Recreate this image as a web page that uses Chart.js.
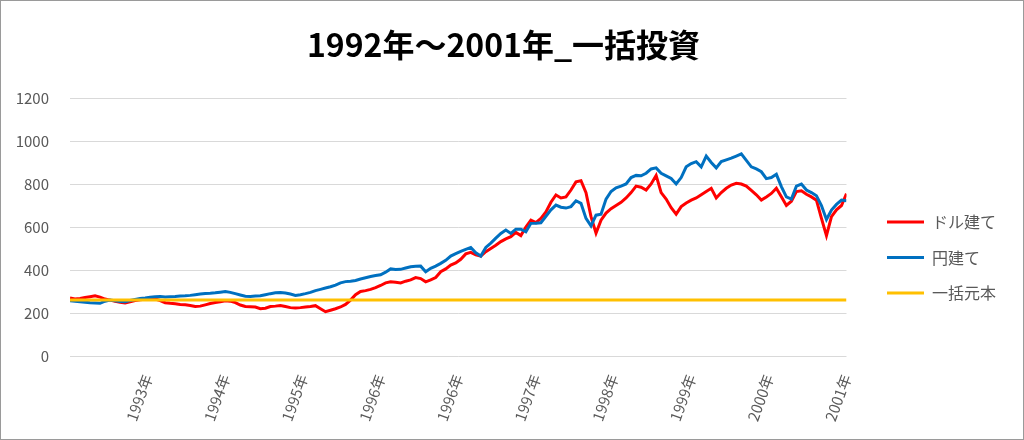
<!DOCTYPE html>
<html lang="ja">
<head>
<meta charset="utf-8">
<title>1992年～2001年_一括投資</title>
<script src="https://cdn.jsdelivr.net/npm/chart.js@4.4.1/dist/chart.umd.min.js"></script>
<style>
  html, body { margin: 0; padding: 0; background: #fff; }
  #wrap {
    width: 1024px;
    height: 440px;
    box-sizing: border-box;
    border: 1px solid #9a9a9a;
  }
  canvas { display: block; }
</style>
</head>
<body>
<div id="wrap"><canvas id="lumpChart" width="1022" height="438"></canvas></div>
<script>
// 系列ラベル
const seriesNames = ["ドル建て", "円建て", "一括元本"];

// 軸ラベル（10年間を等間隔）
const tickLabels = ["1993年", "1994年", "1995年", "1996年", "1996年",
  "1997年", "1998年", "1999年", "2000年", "2001年"];
const SPAN_YEARS = 10;

// ドル建て評価額
const dollarValues = [
  270, 265, 268, 272, 276, 280, 274, 265, 260, 255,
  250, 247, 252, 258, 262, 264, 266, 265, 258, 248,
  245, 243, 240, 238, 235, 230, 232, 238, 244, 249,
  252, 257, 255, 248, 237, 230, 229, 228, 220, 222,
  230, 232, 235, 230, 225, 223, 225, 228, 230, 234,
  220, 206, 213, 220, 228, 240, 260, 285, 300, 304,
  310, 318, 328, 340, 345, 343, 340, 348, 354, 365,
  360, 345, 354, 365, 392, 405, 423, 433, 450, 475,
  482, 470, 465, 485, 500, 515, 532, 545, 555, 575,
  560, 600, 632, 620, 640, 670, 715, 749, 735, 740,
  772, 810, 815, 760, 648, 571, 632, 665, 685, 700,
  715, 735, 760, 790, 785, 772, 800, 840, 760, 730,
  690, 660, 695, 712, 725, 735, 750, 765, 780, 735,
  760, 780, 795, 803, 800, 790, 770, 750, 725, 740,
  756, 780, 741, 700, 720, 765, 768, 752, 740, 725,
  640, 560, 648, 680, 700, 755
];

// 円建て評価額
const yenValues = [
  257, 255, 252, 250, 248, 247, 245, 255, 260, 257,
  254, 252, 258, 263, 268, 270, 273, 276, 277, 275,
  276, 277, 279, 280, 282, 285, 288, 291, 292, 294,
  297, 300, 296, 290, 284, 278, 277, 279, 280, 285,
  290, 294, 295, 293, 288, 282, 285, 290, 296, 304,
  310, 316, 322, 330, 340, 346, 348, 351, 358, 364,
  370, 374, 378, 390, 405, 402, 403, 409, 415, 417,
  418, 392, 408, 418, 431, 445, 465, 476, 487, 496,
  505, 480, 465, 505, 525, 548, 570, 586, 570, 590,
  590, 578, 617, 618, 620, 650, 680, 702, 692, 688,
  695, 722, 710, 640, 605, 655, 660, 730, 765, 782,
  790, 800, 830, 840, 838, 850, 870, 875, 850, 838,
  826, 800, 830, 880, 895, 904, 880, 930, 900, 875,
  904, 912, 920, 930, 940, 910, 880, 870, 857, 825,
  830, 845, 788, 740, 730, 790, 800, 772, 760, 745,
  700, 635, 679, 705, 725, 722
];

// 一括元本
const principalValue = 260;

const xOf = (i, n) => (i * SPAN_YEARS) / (n - 1);
const toPoints = (values) => values.map((v, i) => ({ x: xOf(i, values.length), y: v }));

const FONT = "'Noto Sans CJK JP', 'Noto Sans', sans-serif";

new Chart(document.getElementById("lumpChart"), {
  type: "line",
  data: {
    datasets: [
      {
        label: seriesNames[0],
        data: toPoints(dollarValues),
        borderColor: "#ff0000",
        backgroundColor: "#ff0000",
        borderWidth: 3,
        order: 2,
      },
      {
        label: seriesNames[1],
        data: toPoints(yenValues),
        borderColor: "#0070c0",
        backgroundColor: "#0070c0",
        borderWidth: 3,
        order: 1,
      },
      {
        label: seriesNames[2],
        data: toPoints(yenValues.map(() => principalValue)),
        borderColor: "#ffc000",
        backgroundColor: "#ffc000",
        borderWidth: 3,
        order: 0,
      },
    ],
  },
  options: {
    responsive: false,
    animation: false,
    elements: { point: { radius: 0 }, line: { tension: 0 } },
    layout: { padding: { top: 75, right: 17, bottom: 0, left: 0 } },
    plugins: {
      title: {
        display: true,
        text: "1992年～2001年_一括投資",
        color: "#000",
        font: { family: FONT, size: 32, weight: "bold" },
        padding: { top: -50, bottom: 33.6 },
      },
      legend: {
        position: "right",
        labels: {
          usePointStyle: true,
          pointStyle: "line",
          pointStyleWidth: 37,
          padding: 19.5,
          color: "#595959",
          font: { family: FONT, size: 16 },
          sort: (a, b) => a.datasetIndex - b.datasetIndex,
        },
      },
      tooltip: { enabled: false },
    },
    scales: {
      x: {
        type: "linear",
        min: 0,
        max: SPAN_YEARS,
        grid: { display: false },
        border: { display: false },
        afterBuildTicks: (axis) => {
          axis.ticks = tickLabels.map((_, k) => ({ value: k + 1 }));
        },
        afterFit: (axis) => {
          axis.height = 83;
        },
        ticks: {
          autoSkip: false,
          minRotation: 70,
          maxRotation: 70,
          padding: 8,
          color: "#595959",
          font: { family: FONT, size: 15 },
          callback: (value, index) => tickLabels[index],
        },
      },
      y: {
        min: 0,
        max: 1200,
        grid: { color: "#d9d9d9", lineWidth: 1, drawTicks: false },
        border: { display: false },
        afterFit: (axis) => {
          axis.width = 69;
        },
        ticks: {
          stepSize: 200,
          padding: 21,
          color: "#595959",
          font: { family: FONT, size: 15 },
          callback: (value) => String(value),
        },
      },
      // 凡例とプロットの間隔用
      gap: {
        type: "linear",
        position: "right",
        display: true,
        grid: { display: false, drawTicks: false },
        border: { display: false },
        ticks: { display: false },
        afterFit: (axis) => {
          axis.width = 21;
        },
      },
    },
  },
});
</script>
</body>
</html>
